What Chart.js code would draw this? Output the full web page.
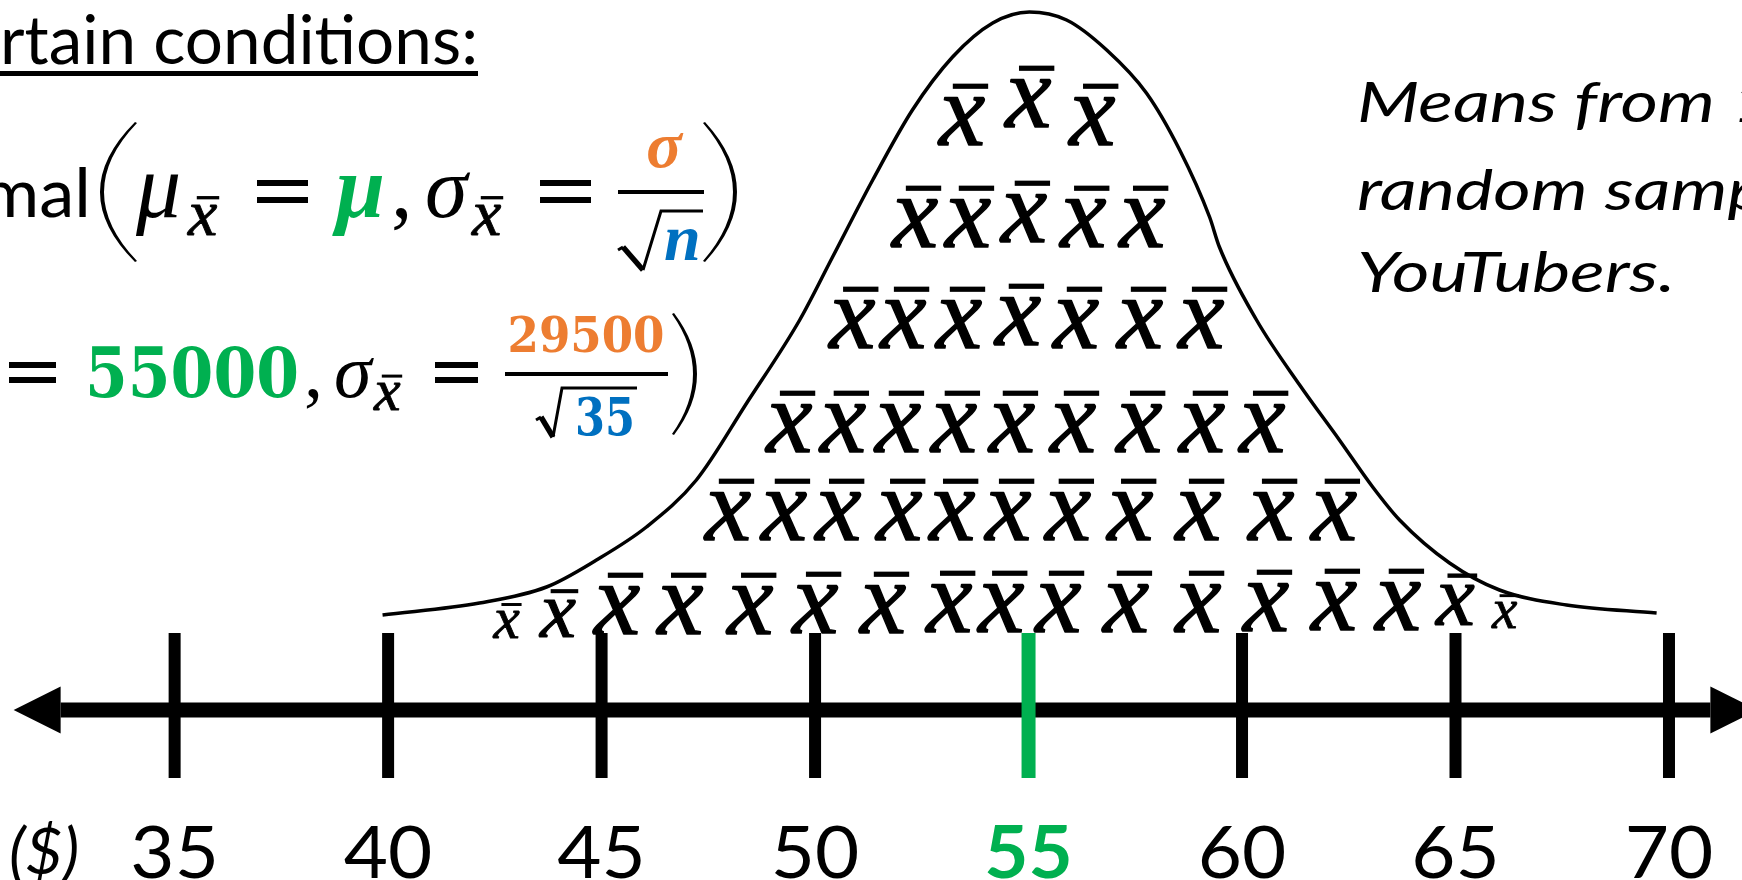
<!DOCTYPE html>
<html>
<head>
<meta charset="utf-8">
<script src="https://cdn.jsdelivr.net/npm/chart.js@4/dist/chart.umd.min.js"></script>
<style>
  html, body { margin: 0; padding: 0; background: #fff; overflow: hidden; }
  canvas { display: block; }
</style>
</head>
<body>
<canvas id="chart" width="1742" height="880"></canvas>
<script>
// population values quoted in the formulas (salary in $)
const MEAN = 55000;
const SIGMA = 29500;
const SAMPLE_SIZE = 35;

// number line, in thousands of $
const TICK_VALUES = [35, 40, 45, 50, 55, 60, 65, 70];
const AXIS_ENDS = [32.33, 70.97];

// hand drawn bell curve over the dot plot
const CURVE_X = [39.87, 42.14, 43.71, 44.88, 46.05, 47.22, 48.40, 49.64, 50.41, 51.35, 52.28, 53.22, 54.16, 55.02,
                 55.89, 56.83, 57.76, 58.54, 59.24, 59.47, 60.34, 61.35, 62.28, 63.06, 63.69, 64.86, 66.03, 67.60, 69.71];
const CURVE_Y = [0.95, 1.07, 1.23, 1.50, 1.83, 2.30, 3.07, 3.90, 4.53, 5.30, 6.00, 6.53, 6.87, 6.98,
                 6.90, 6.60, 6.17, 5.60, 4.93, 4.63, 3.90, 3.25, 2.70, 2.23, 1.90, 1.47, 1.20, 1.05, 0.97];

// sample means, one array per stacked row (top row first)
const ROW1_X = [53.64, 55.19, 56.69];
const ROW1_Y = [5.65, 5.83, 5.65];
const ROW2_X = [52.54, 53.78, 55.09, 56.48, 57.86];
const ROW2_Y = [4.63, 4.63, 4.68, 4.63, 4.63];
const ROW3_X = [51.07, 52.26, 53.57, 54.95, 56.31, 57.81, 59.24];
const ROW3_Y = [3.62, 3.62, 3.62, 3.65, 3.62, 3.62, 3.62];
const ROW4_X = [49.59, 50.85, 52.14, 53.45, 54.81, 56.24, 57.79, 59.26, 60.67];
const ROW4_Y = [2.58, 2.58, 2.58, 2.58, 2.58, 2.58, 2.58, 2.58, 2.58];
const ROW5_X = [48.16, 49.47, 50.74, 52.17, 53.41, 54.72, 56.12, 57.58, 59.17, 60.88, 62.35];
const ROW5_Y = [1.70, 1.70, 1.70, 1.70, 1.70, 1.70, 1.70, 1.70, 1.70, 1.70, 1.70];
const ROW6_X = [42.89, 44.13, 45.56, 47.04, 48.68, 50.20, 51.79, 53.34, 54.56, 55.89, 57.48, 59.17, 60.76, 62.35, 63.85, 65.16, 66.26];
const ROW6_Y = [0.72, 0.73, 0.76, 0.76, 0.76, 0.77, 0.77, 0.78, 0.78, 0.78, 0.78, 0.78, 0.79, 0.80, 0.80, 0.85, 0.82];

const GREEN = '#00B050';
const ORANGE = '#ED7D31';
const BLUE = '#0070C0';
const SANS = 'Lato';
const MATH = '"Liberation Serif"';
const DIGITS = '"DejaVu Serif"';
const XBAR_FONT = 104;

function put(ctx, s, x, y, font, color, align, sx) {
  ctx.save();
  ctx.font = font;
  ctx.fillStyle = color;
  ctx.textAlign = align || 'left';
  ctx.textBaseline = 'alphabetic';
  ctx.translate(x, y);
  ctx.scale(sx || 1, 1);
  ctx.fillText(s, 0, 0);
  ctx.restore();
}

// horizontal squeeze so that `ref` comes out `width` px wide
function fit(ctx, font, ref, width) {
  ctx.save();
  ctx.font = font;
  const w = ctx.measureText(ref).width;
  ctx.restore();
  return width / w;
}

function xbar(ctx, cx, base, size) {
  ctx.save();
  ctx.fillStyle = '#000';
  ctx.strokeStyle = '#000';
  ctx.lineWidth = size * 0.014;
  ctx.lineJoin = 'round';
  ctx.font = `italic ${size}px ${MATH}`;
  ctx.textAlign = 'center';
  ctx.textBaseline = 'alphabetic';
  ctx.fillText('x', cx - 0.08 * size, base);
  ctx.strokeText('x', cx - 0.08 * size, base);
  ctx.fillRect(cx - 0.17 * size, base - 0.59 * size, 0.34 * size, Math.max(2, 0.05 * size));
  ctx.restore();
}

function equals(ctx, x0, x1, y0, y1, t) {
  ctx.fillStyle = '#000';
  ctx.fillRect(x0, y0, x1 - x0, t);
  ctx.fillRect(x0, y1, x1 - x0, t);
}

// tall bracket as a crescent between two quadratic curves
function paren(ctx, xEnd, xBulge, top, bottom, w) {
  const mid = (top + bottom) / 2;
  const dir = Math.sign(xBulge - xEnd);
  const xi = xEnd - dir * 2;
  ctx.save();
  ctx.fillStyle = '#000';
  ctx.beginPath();
  ctx.moveTo(xEnd, top);
  ctx.quadraticCurveTo(2 * xBulge - xEnd, mid, xEnd, bottom);
  ctx.lineTo(xi, bottom - 1);
  ctx.quadraticCurveTo(2 * (xBulge - dir * w) - xi, mid, xi, top + 1);
  ctx.closePath();
  ctx.fill();
  ctx.restore();
}

function radical(ctx, hx, hy, bx, by, tx, ty, endX, lw) {
  ctx.save();
  ctx.strokeStyle = '#000';
  ctx.lineCap = 'butt';
  ctx.lineJoin = 'miter';
  ctx.lineWidth = lw;
  ctx.beginPath();
  ctx.moveTo(hx - 3, hy + 3);
  ctx.lineTo(hx + 2, hy);
  ctx.stroke();
  ctx.lineWidth = lw * 1.8;
  ctx.beginPath();
  ctx.moveTo(hx + 2, hy);
  ctx.lineTo(bx, by);
  ctx.stroke();
  ctx.lineWidth = lw;
  ctx.beginPath();
  ctx.moveTo(bx, by);
  ctx.lineTo(tx, ty);
  ctx.lineTo(endX, ty);
  ctx.stroke();
  ctx.restore();
}

const xbarPlugin = {
  id: 'xbarGlyphs',
  afterDatasetsDraw(chart) {
    const ctx = chart.ctx;
    // arrow heads on the number line
    const [a, b] = chart.getDatasetMeta(1).data;
    ctx.save();
    ctx.fillStyle = '#000';
    [[a, -1], [b, 1]].forEach(([p, dir]) => {
      ctx.beginPath();
      ctx.moveTo(p.x, p.y - 23.5);
      ctx.lineTo(p.x + dir * 47, p.y);
      ctx.lineTo(p.x, p.y + 23.5);
      ctx.closePath();
      ctx.fill();
    });
    ctx.restore();

    chart.data.datasets.forEach((ds, i) => {
      if (!ds.xbar) return;
      chart.getDatasetMeta(i).data.forEach((pt, j) => {
        const s = ds.xbarSizes ? ds.xbarSizes[j] : 1;
        xbar(ctx, pt.x, pt.y, XBAR_FONT * s);
      });
    });
  }
};

const notesPlugin = {
  id: 'notes',
  afterDraw(chart) {
    const ctx = chart.ctx;
    const head = `67px ${SANS}`;

    put(ctx, 'Under certain conditions:', 478, 64, head, '#000', 'right', fit(ctx, head, 'rtain conditions:', 478));
    ctx.fillStyle = '#000';
    ctx.fillRect(0, 71, 478, 5);

    // Normal(mu_xbar = mu, sigma_xbar = sigma / sqrt(n))
    put(ctx, 'Normal', 91, 217, head, '#000', 'right', fit(ctx, head, 'nal', 91));
    paren(ctx, 135, 100, 122, 262, 4);
    put(ctx, 'μ', 136, 217, `italic 90px ${MATH}`, '#000');
    xbar(ctx, 208, 235, 66);
    equals(ctx, 257, 308, 180, 197, 6);
    put(ctx, 'μ', 336, 217, `italic bold 88px ${MATH}`, GREEN);
    put(ctx, ',', 391, 217, `86px ${MATH}`, '#000');
    put(ctx, 'σ', 425, 217, `italic 86px ${MATH}`, '#000');
    xbar(ctx, 492, 235, 66);
    equals(ctx, 540, 591, 180, 197, 6);
    put(ctx, 'σ', 664, 167, `italic bold 66px ${MATH}`, ORANGE, 'center');
    ctx.fillStyle = '#000';
    ctx.fillRect(618, 190, 86, 4);
    radical(ctx, 621, 247, 643, 270, 661, 211, 703, 3);
    put(ctx, 'n', 664, 260, `italic bold 66px ${MATH}`, BLUE);
    paren(ctx, 705, 737, 122, 262, 4);

    // (mu_xbar = 55000, sigma_xbar = 29500 / sqrt(35))
    equals(ctx, 9, 56, 362, 377, 6);
    put(ctx, String(MEAN), 85, 397, `bold 69px ${DIGITS}`, GREEN, 'left', fit(ctx, `bold 69px ${DIGITS}`, String(MEAN), 214));
    put(ctx, ',', 304, 397, `76px ${MATH}`, '#000');
    put(ctx, 'σ', 334, 397, `italic 76px ${MATH}`, '#000');
    xbar(ctx, 392, 410, 60);
    equals(ctx, 435, 478, 362, 377, 6);
    const num = `bold 48px ${DIGITS}`;
    put(ctx, String(SIGMA), 586, 352, num, ORANGE, 'center', fit(ctx, num, String(SIGMA), 157));
    ctx.fillStyle = '#000';
    ctx.fillRect(505, 372, 163, 4);
    radical(ctx, 539, 417, 553, 437, 562, 388, 637, 3);
    const den = `bold 52px ${DIGITS}`;
    put(ctx, String(SAMPLE_SIZE), 575, 435, den, BLUE, 'left', fit(ctx, den, String(SAMPLE_SIZE), 60));
    paren(ctx, 674, 697, 313, 435, 4);

    // caption on the right
    const cap = `italic 56px ${SANS}`;
    const csx = fit(ctx, cap, 'Means from', 358);
    ['Means from 1000s of', `random samples of ${SAMPLE_SIZE}`, 'YouTubers.'].forEach((s, i) => {
      put(ctx, s, 1357, [122, 210, 292][i], cap, '#000', 'left', csx);
    });

    // tick labels under the number line
    const xs = chart.scales.x;
    const base = chart.scales.y.getPixelForValue(0) + 168;
    TICK_VALUES.forEach(v => {
      const hi = v === MEAN / 1000;
      put(ctx, String(v), xs.getPixelForValue(v), base, `${hi ? 'bold ' : ''}72px ${SANS}`, hi ? GREEN : '#000', 'center', 1.06);
    });
    const unit = `italic 64px ${SANS}`;
    ctx.save();
    ctx.font = unit;
    const uw = ctx.measureText('($)').width;
    ctx.restore();
    put(ctx, 'Income ($)', 9 + uw, base - 4, unit, '#000', 'right');
  }
};

const rows = [[ROW1_X, ROW1_Y], [ROW2_X, ROW2_Y], [ROW3_X, ROW3_Y], [ROW4_X, ROW4_Y], [ROW5_X, ROW5_Y], [ROW6_X, ROW6_Y]];
const rowSets = rows.map(([xs, ys], r) => ({
  label: 'row ' + (r + 1),
  data: xs.map((x, i) => ({x: x, y: ys[i]})),
  pointRadius: 0,
  showLine: false,
  xbar: true,
  xbarSizes: r === 5 ? xs.map((_, i) => [0.57, 0.78][i] || [0.55, 0.84][xs.length - 1 - i] || 1) : null,
}));

new Chart(document.getElementById('chart'), {
  type: 'scatter',
  data: {
    datasets: [
      {
        label: 'ticks',
        data: TICK_VALUES.map(v => ({x: v, y: 0.045})),
        pointStyle: 'line',
        pointRotation: 90,
        pointRadius: 72.5,
        pointBorderWidth: TICK_VALUES.map(v => v === MEAN / 1000 ? 14 : 12),
        pointBorderColor: TICK_VALUES.map(v => v === MEAN / 1000 ? GREEN : '#000'),
        showLine: false,
        clip: false,
      },
      {
        label: 'axis',
        data: AXIS_ENDS.map(x => ({x: x, y: 0})),
        showLine: true,
        borderColor: '#000',
        borderWidth: 15,
        pointRadius: 0,
        clip: false,
      },
      {
        label: 'curve',
        data: CURVE_X.map((x, i) => ({x: x, y: CURVE_Y[i]})),
        showLine: true,
        borderColor: '#000',
        borderWidth: 3.5,
        pointRadius: 0,
        cubicInterpolationMode: 'monotone',
      },
      ...rowSets,
    ]
  },
  options: {
    responsive: false,
    animation: false,
    events: [],
    layout: {padding: 0, autoPadding: false},
    plugins: {legend: {display: false}, tooltip: {enabled: false}},
    scales: {
      x: {type: 'linear', min: 30.91, max: 71.71, display: false},
      y: {type: 'linear', min: -1.7, max: 7.1, display: false},
    },
  },
  plugins: [xbarPlugin, notesPlugin],
});
</script>
</body>
</html>
